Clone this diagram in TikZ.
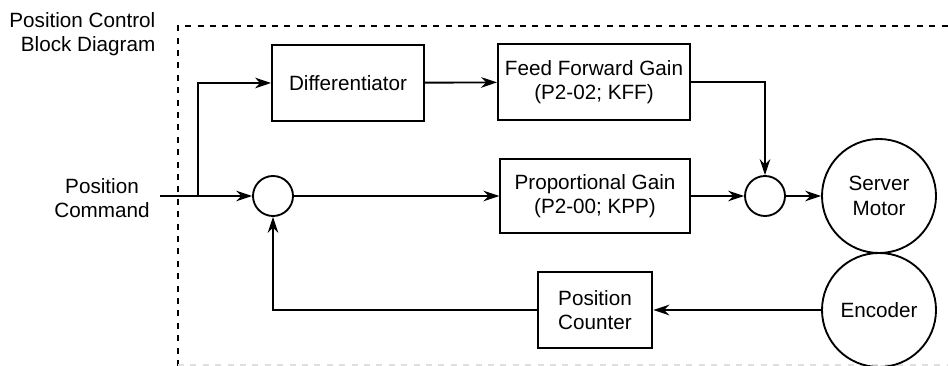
\documentclass[tikz,border=0pt]{standalone}
\usepackage{fontspec}
\setmainfont{Liberation Sans}
\usetikzlibrary{positioning,arrows.meta,calc}

\begin{document}
\begin{tikzpicture}[
  x=0.75pt, y=-0.75pt,
  font=\fontsize{15.5}{18.5}\selectfont, >={Stealth[length=12pt,width=8pt]},
  blk/.style={draw, line width=1.5pt, inner sep=0pt, align=center,
              minimum width=#1, minimum height=57pt},
  sumc/.style={draw, circle, line width=1.4pt, minimum size=30pt, inner sep=0pt},
  bigc/.style={draw, circle, line width=1.4pt, minimum size=85.5pt, inner sep=0pt, align=center},
  arr/.style={->, line width=1.4pt},
  frame/.style={line width=1.3pt, dash pattern=on 4.5pt off 4.8pt},
]
\useasboundingbox (0,0) rectangle (948,366);
% frame of the block diagram
\draw[frame] (178,366) -- (178,26) -- (948,26);
\draw[frame, gray!25] (178,365) -- (948,365);
\node[anchor=east, align=right] (title) at (160,34) {Position Control\\Block Diagram};
\node[align=center] (cmd) at (102,198) {Position\\Command};

\node[blk=114pt] (diff) at (348,83) {Differentiator};
\node[blk=144pt] (ffgain) at (594,82) {Feed Forward Gain\\(P2-02; KFF)};
\node[sumc] (sum1) at (273,196) {};
\node[blk=142pt, minimum height=56pt] (pgain) at (595,196) {Proportional Gain\\(P2-00; KPP)};
\node[sumc] (sum2) at (765,196) {};
\node[bigc] (motor) at (879,196) {Server\\Motor};
\node[bigc] (encoder) at (879,310) {Encoder};
\node[blk=86pt] (counter) at (595,310) {Position\\Counter};

\coordinate (in) at (160,196);
\coordinate (split) at (198,196);
\draw[arr] (in) -- (sum1);
\draw[arr] (split) |- (diff.west);
\draw[arr] (diff) -- (ffgain);
\draw[arr] (ffgain.east) -| (sum2.north);
\draw[arr] (sum1) -- (pgain);
\draw[arr] (pgain) -- (sum2);
\draw[arr] (sum2) -- (motor);
\draw[arr] (encoder) -- (counter);
\draw[arr] (counter.west) -| (sum1.south);
\end{tikzpicture}
\end{document}
